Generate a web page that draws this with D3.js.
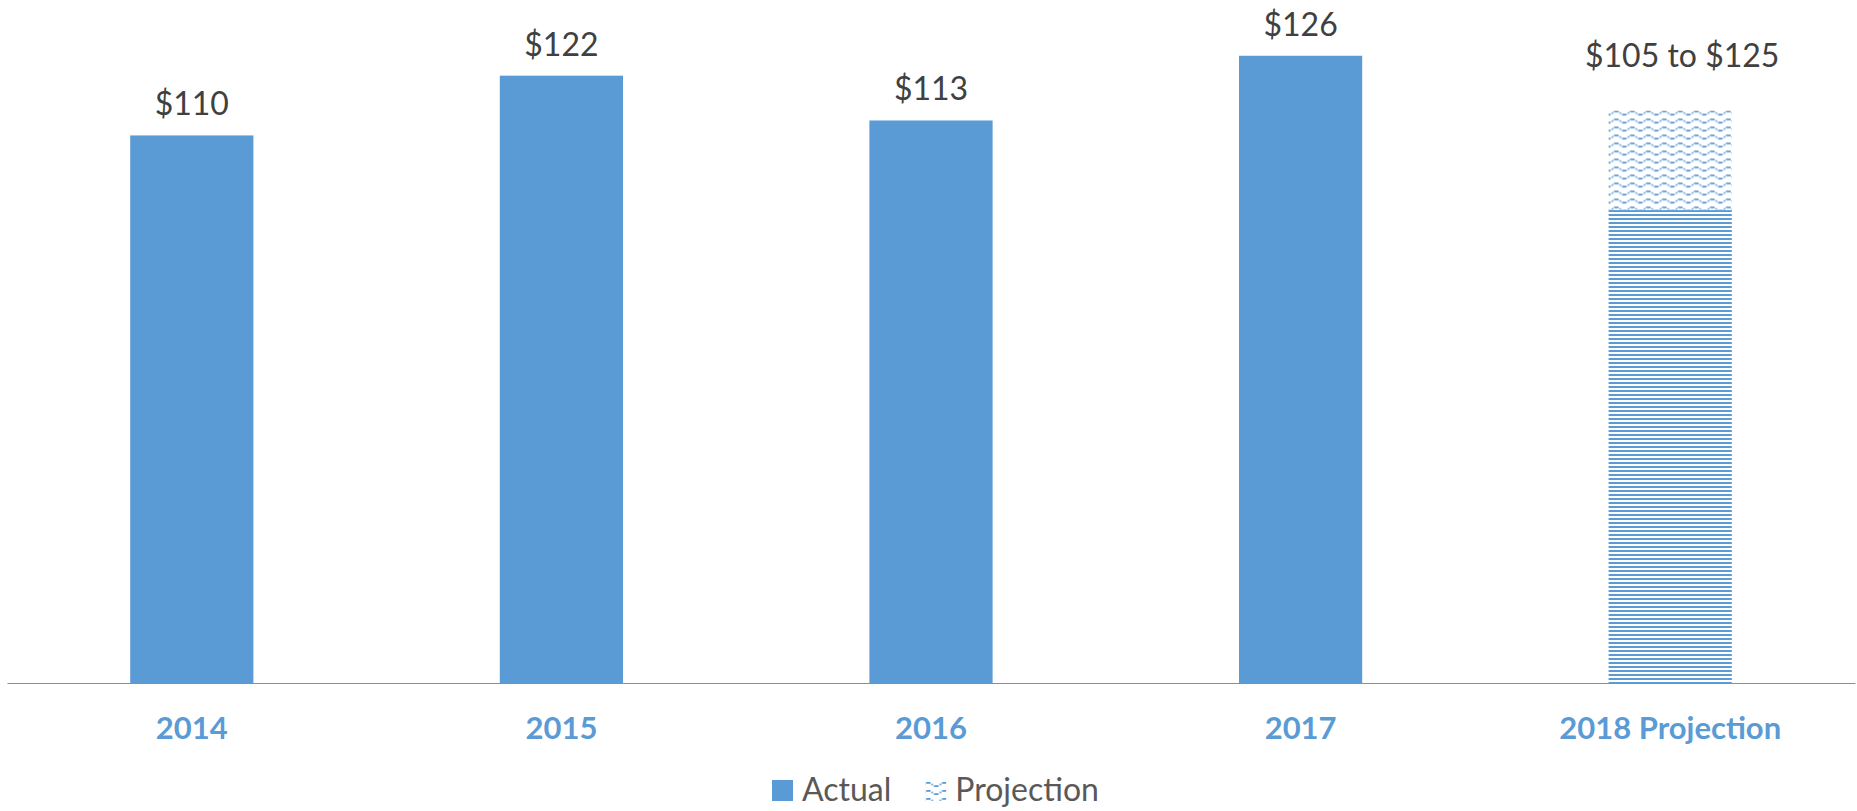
<!DOCTYPE html>
<html>
<head>
<meta charset="utf-8">
<script src="https://cdn.jsdelivr.net/npm/d3@7/dist/d3.min.js"></script>
<style>
  body { margin: 0; background: #fff; }
  text { font-family: Lato, "Open Sans", sans-serif; }
</style>
</head>
<body>
<svg id="chart"></svg>
<script>
var years      = ["2014", "2015", "2016", "2017", "2018 Projection"];
var actual     = [110, 122, 113, 126, null];
var projBase   = [null, null, null, null, 95];
var projRange  = [null, null, null, null, 20];
var valueLabels = ["$110", "$122", "$113", "$126", "$105 to $125"];
var legendItems = ["Actual", "Projection"];

var blue = "#5B9BD5";
var W = 1857, H = 811;

var svg = d3.select("#chart")
    .attr("width", W)
    .attr("height", H);

// patterns for the projection bar
var defs = svg.append("defs");

var stripes = defs.append("pattern")
    .attr("id", "stripes")
    .attr("patternUnits", "userSpaceOnUse")
    .attr("width", 8).attr("height", 4);
stripes.append("rect")
    .attr("x", 0).attr("y", 2).attr("width", 8).attr("height", 2)
    .attr("fill", blue);

function wavePattern(id, ox, oy) {
  var p = defs.append("pattern")
      .attr("id", id)
      .attr("patternUnits", "userSpaceOnUse")
      .attr("x", ox).attr("y", oy)
      .attr("width", 16).attr("height", 8);
  var bits = [[0, 1.6, 1.6, 1.8], [2.4, 0, 4.6, 1.8], [7.8, 1.6, 1.6, 1.8], [10.4, 3.2, 4.6, 1.8]];
  bits.forEach(function(b) {
    p.append("rect")
      .attr("x", b[0]).attr("y", b[1]).attr("width", b[2]).attr("height", b[3])
      .attr("fill", blue);
  });
}

// scales
var x = d3.scaleBand()
    .domain(years)
    .range([7, 1855])
    .paddingInner(2 / 3)
    .paddingOuter(1 / 3);

var y = d3.scaleLinear()
    .domain([0, 137])
    .range([683, 1]);

var rows = years.map(function(d, i) {
  return { year: d, actual: actual[i], base: projBase[i], range: projRange[i], label: valueLabels[i] };
});

var last = rows[rows.length - 1];
wavePattern("waves", x(last.year) + 3, y(last.base + last.range));

// actual bars
svg.selectAll(".bar")
    .data(rows.filter(function(d) { return d.actual != null; }))
  .enter().append("rect")
    .attr("class", "bar")
    .attr("x", function(d) { return x(d.year); })
    .attr("y", function(d) { return y(d.actual); })
    .attr("width", x.bandwidth())
    .attr("height", function(d) { return y(0) - y(d.actual); })
    .attr("fill", blue);

// projection bar, two stacked parts
var proj = rows.filter(function(d) { return d.base != null; });

svg.selectAll(".projBase")
    .data(proj)
  .enter().append("rect")
    .attr("x", function(d) { return x(d.year); })
    .attr("y", function(d) { return y(d.base); })
    .attr("width", x.bandwidth())
    .attr("height", function(d) { return y(0) - y(d.base); })
    .attr("fill", "url(#stripes)");

svg.selectAll(".projTop")
    .data(proj)
  .enter().append("rect")
    .attr("x", function(d) { return x(d.year); })
    .attr("y", function(d) { return y(d.base + d.range); })
    .attr("width", x.bandwidth())
    .attr("height", function(d) { return y(d.base) - y(d.base + d.range); })
    .attr("fill", "url(#waves)");

// value labels
svg.selectAll(".val")
    .data(rows)
  .enter().append("text")
    .attr("x", function(d) { return x(d.year) + x.bandwidth() / 2 + (d.actual == null ? 12 : 0); })
    .attr("y", function(d) { return d.actual != null ? y(d.actual) - 20 : y(d.base + d.range) - 44; })
    .attr("text-anchor", "middle")
    .style("font-size", "32px")
    .attr("fill", "#404040")
    .text(function(d) { return d.label; });

// category axis
var axis = svg.append("g")
    .attr("transform", "translate(0," + y(0) + ")")
    .call(d3.axisBottom(x).tickSize(0).tickSizeOuter(0).tickPadding(34));
axis.select(".domain").attr("stroke", blue).attr("stroke-width", 1.2);
axis.selectAll("text")
    .style("font-family", "Lato, sans-serif")
    .style("font-size", "31px")
    .style("font-weight", "bold")
    .attr("fill", blue);

// legend
var legend = svg.append("g");
var lx = 0;
var items = legend.selectAll(".leg")
    .data(legendItems)
  .enter().append("g");

items.each(function(d, i) {
  var g = d3.select(this);
  g.append("rect")
    .attr("x", 0).attr("y", -21).attr("width", 21).attr("height", 21)
    .attr("fill", i === 0 ? blue : "url(#legwave)");
  var t = g.append("text")
      .attr("x", 30)
      .attr("y", 0)
      .style("font-size", "32px")
      .attr("fill", "#595959")
      .text(d);
  g.attr("transform", "translate(" + lx + ",0)");
  this.__x = lx;
  lx += 30 + t.node().getComputedTextLength() + 34;
});
var legW = lx - 34;
var legX = Math.round(935 - legW / 2);
legend.attr("transform", "translate(" + legX + ",801)");
var projX = legX + items.nodes()[1].__x;
wavePattern("legwave", projX + 1, 781);
</script>
</body>
</html>
